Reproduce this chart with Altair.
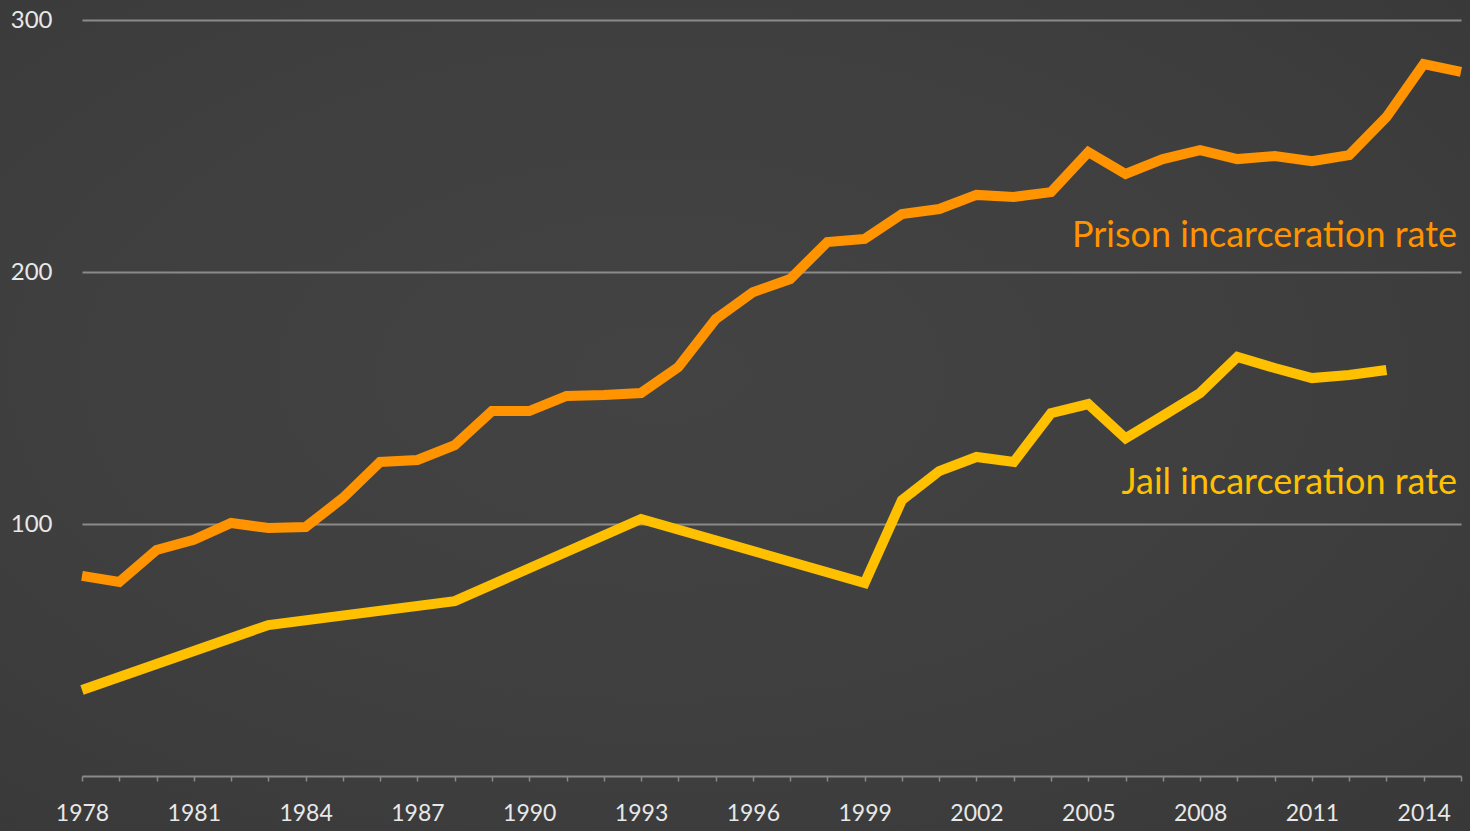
import altair as alt
import pandas as pd
import jinja2

# Prison incarceration rate (per 100,000)
prison_years = list(range(1978, 2016))
prison_values = [79.4, 77.0, 89.7, 93.7, 100.4, 98.4, 98.8, 110.3, 124.6, 125.4,
                 131.3, 144.8, 144.8, 150.8, 151.2, 152.0, 162.3, 181.3, 192.0, 197.2,
                 211.9, 213.1, 223.0, 225.0, 230.6, 229.8, 231.7, 247.6, 238.9, 244.8,
                 248.4, 244.8, 246.0, 244.0, 246.4, 261.5, 282.5, 279.4]

# Jail incarceration rate
jail_years = [1978, 1983, 1988, 1993, 1999, 2000, 2001, 2002, 2003, 2004, 2005,
              2006, 2007, 2008, 2009, 2010, 2011, 2012, 2013]
jail_values = [34.1, 59.9, 69.4, 102.0, 76.6, 109.5, 121.0, 126.6, 124.6, 144.0, 147.6,
               134.0, 142.9, 152.0, 166.3, 161.9, 157.9, 159.1, 161.1]

series_names = ["Prison incarceration rate", "Jail incarceration rate"]
series_colors = ["#FF9400", "#FFC000"]
label_years = [2015, 2015]
label_values = [214.3, 116.3]

x_tick_years = list(range(1978, 2016))
y_tick_values = [100, 200, 300]

rows = [{"year": y, "value": v, "series": series_names[0]} for y, v in zip(prison_years, prison_values)]
rows += [{"year": y, "value": v, "series": series_names[1]} for y, v in zip(jail_years, jail_values)]
df = pd.DataFrame(rows)
labels_df = pd.DataFrame({"year": label_years, "value": label_values, "series": series_names})

FONT = "Lato"

x_scale = alt.Scale(domain=[1978, 2015], nice=False, zero=False)
y_scale = alt.Scale(domain=[0, 300], nice=False, zero=True)
color_scale = alt.Scale(domain=series_names, range=series_colors)

x_axis = alt.Axis(
    values=x_tick_years,
    labelExpr="(datum.value - 1978) % 3 == 0 ? format(datum.value, 'd') : ''",
    title=None, grid=False, domain=True, domainColor="#8a8a8a", domainWidth=2,
    ticks=True, tickColor="#8a8a8a", tickSize=5, tickWidth=1.5,
    labelColor="#e8e8e8", labelFont=FONT, labelFontSize=23, labelPadding=21,
    labelOverlap=False, labelFlush=False, labelBound=False,
)
y_axis = alt.Axis(
    values=y_tick_values, format="d", title=None, domain=False, ticks=False,
    grid=True, gridColor="#8a8a8a", gridWidth=2,
    labelColor="#e8e8e8", labelFont=FONT, labelFontSize=24, labelPadding=30,
    labelOverlap=False,
)

lines = alt.Chart(df).mark_line(strokeWidth=10, strokeCap="butt", strokeJoin="miter").encode(
    x=alt.X("year:Q", scale=x_scale, axis=x_axis),
    y=alt.Y("value:Q", scale=y_scale, axis=y_axis),
    color=alt.Color("series:N", scale=color_scale, legend=None),
    order="year:Q",
)

texts = alt.Chart(labels_df).mark_text(
    align="right", baseline="middle", font=FONT, fontSize=36, dx=-4
).encode(
    x=alt.X("year:Q", scale=x_scale, axis=x_axis),
    y=alt.Y("value:Q", scale=y_scale, axis=y_axis),
    text="series:N",
    color=alt.Color("series:N", scale=color_scale, legend=None),
)

chart = alt.layer(lines, texts).properties(
    width=1379, height=756,
    autosize=alt.AutoSizeParams(type="none"),
    padding={"left": 82, "top": 20, "right": 9, "bottom": 55},
    background="transparent",
).configure_view(stroke=None).configure_axis(labelOverlap=False)

PAGE_TEMPLATE = jinja2.Template("""<!DOCTYPE html>
<html>
<head>
  <style>
    html, body { margin: 0; padding: 0; overflow: hidden; width: 100%; height: 100%;
      background: radial-gradient(ellipse at 45% 45%, #434343 0%, #3f3f3f 55%, #383838 100%); }
    #{{ output_div }}.vega-embed { width: 100%; display: flex; }
  </style>
  <script type="text/javascript" src="{{ base_url }}/vega@{{ vega_version }}"></script>
  <script type="text/javascript" src="{{ base_url }}/vega-lite@{{ vegalite_version }}"></script>
  <script type="text/javascript" src="{{ base_url }}/vega-embed@{{ vegaembed_version }}"></script>
</head>
<body>
  <div id="{{ output_div }}"></div>
  <script type="text/javascript">
    (function(vegaEmbed) {
      var spec = {{ spec }};
      var embedOpt = {{ embed_options }};
      function showError(el, error){
        el.innerHTML = ('<div style="color:red;"><p>JavaScript Error: ' + error.message + '</p></div>');
        throw error;
      }
      const el = document.getElementById('{{ output_div }}');
      vegaEmbed("#{{ output_div }}", spec, embedOpt).catch(error => showError(el, error));
    })(vegaEmbed);
  </script>
</body>
</html>
""")

chart.save("out.html", embed_options={"renderer": "svg", "actions": False}, template=PAGE_TEMPLATE)
